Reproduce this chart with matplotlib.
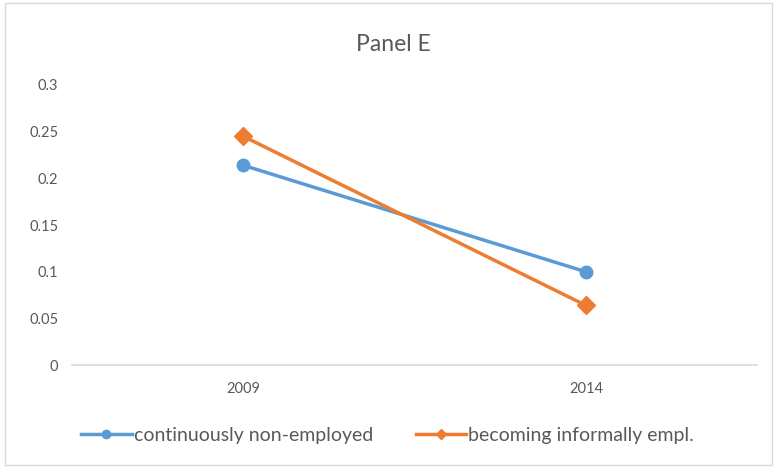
import matplotlib.pyplot as plt
from matplotlib.lines import Line2D

years = ["2009", "2014"]
continuous_nonemp = [0.214, 0.100]
becoming_informal = [0.245, 0.064]
y_ticks = [0, 0.05, 0.1, 0.15, 0.2, 0.25, 0.3]
y_labels = ["0", "0.05", "0.1", "0.15", "0.2", "0.25", "0.3"]

plt.rcParams["font.family"] = ["Lato", "DejaVu Sans"]
BLUE = "#5b9bd5"
ORANGE = "#ed7d31"
GREY = "#595959"

fig = plt.figure(figsize=(7.75, 4.67), dpi=100)
ax = fig.add_axes([0.093, 0.218, 0.884, 0.6])

x = list(range(len(years)))
ax.plot(x, continuous_nonemp, color=BLUE, lw=2.5, marker="o", ms=9,
        label="continuously non-employed")
ax.plot(x, becoming_informal, color=ORANGE, lw=2.5, marker="D", ms=9,
        label="becoming informally empl.")

ax.set_xlim(-0.5, 1.5)
ax.set_ylim(0, 0.3)
ax.set_xticks(x)
ax.set_xticklabels(years)
ax.set_yticks(y_ticks)
ax.set_yticklabels(y_labels)
ax.tick_params(length=0, labelsize=10.5, colors=GREY, pad=10)
ax.tick_params(axis="x", pad=12)
for s in ["top", "right", "left"]:
    ax.spines[s].set_visible(False)
ax.spines["bottom"].set_color("#d9d9d9")
ax.spines["bottom"].set_linewidth(1.2)

fig.text(0.507, 0.905, "Panel E", ha="center", va="center", fontsize=16.5, color=GREY)

handles = [
    Line2D([], [], color=BLUE, lw=2.5, marker="o", ms=6),
    Line2D([], [], color=ORANGE, lw=2.5, marker="D", ms=5),
]
fig.legend(handles, ["continuously non-employed", "becoming informally empl."],
           loc="center", bbox_to_anchor=(0.5, 0.068), ncol=2, frameon=False,
           fontsize=14, handlelength=2.6, handletextpad=0.1, columnspacing=2.2,
           labelcolor=GREY)

fig.patches.append(plt.Rectangle((0.006, 0.004), 0.99, 0.99, transform=fig.transFigure,
                                 fill=False, edgecolor="#d9d9d9", lw=1))

fig.savefig("out.png", dpi=100)
